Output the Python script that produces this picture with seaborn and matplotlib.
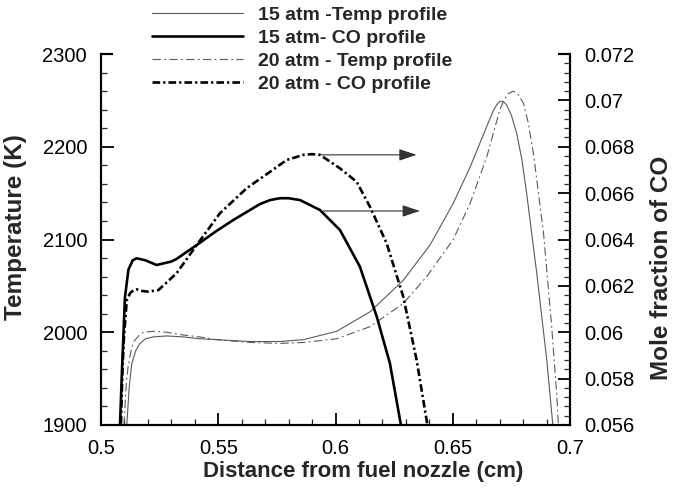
import matplotlib
matplotlib.use("Agg")
import matplotlib.pyplot as plt
import seaborn as sns
from matplotlib.patches import Rectangle
from matplotlib.ticker import FixedLocator, MultipleLocator, FixedFormatter

# ---------------- data ----------------
x_T15 = [0.5085, 0.5100, 0.5110, 0.5120, 0.5131, 0.5148, 0.5166, 0.5190, 0.5223, 0.5280, 0.5351,
         0.5420, 0.5493, 0.5635, 0.5763, 0.5863, 0.6005, 0.6147, 0.6289, 0.6403, 0.6502,
         0.6574, 0.6645, 0.6675, 0.6690, 0.6701, 0.6715, 0.6730, 0.6750, 0.6773, 0.6795,
         0.6815, 0.6858, 0.6901, 0.6926, 0.6940]
T15 = [1800, 1860, 1900, 1940, 1966, 1980, 1988, 1993, 1995, 1996, 1995,
       1993, 1992, 1990, 1990, 1992, 2001, 2022, 2056, 2094, 2139,
       2178, 2222, 2240, 2246, 2249, 2249, 2245, 2234, 2214, 2186,
       2150, 2064, 1970, 1902, 1860]

x_T20 = [0.5085, 0.5098, 0.5108, 0.5115, 0.5128, 0.5140, 0.5160, 0.5181, 0.5223, 0.5280,
         0.5351, 0.5420, 0.5493, 0.5635, 0.5763, 0.5863, 0.6005, 0.6147, 0.6289, 0.6389,
         0.6502, 0.6574, 0.6645, 0.6701, 0.6720, 0.6735, 0.6758, 0.6780, 0.6801, 0.6820,
         0.6844, 0.6887, 0.6922, 0.6943, 0.6955]
T20 = [1820, 1900, 1945, 1962, 1980, 1990, 1996, 2000, 2001, 2000,
       1997, 1995, 1992, 1989, 1988, 1989, 1993, 2006, 2031, 2060,
       2100, 2139, 2189, 2240, 2251, 2257, 2260, 2256, 2247, 2228,
       2193, 2107, 2006, 1934, 1880]

x_CO15 = [0.5075, 0.5081, 0.5090, 0.5095, 0.5102, 0.5117, 0.5135, 0.5152, 0.5190, 0.5237,
          0.5300, 0.5322, 0.5408, 0.5490, 0.5564, 0.5678, 0.5721, 0.5763, 0.5800, 0.5849,
          0.5934, 0.6019, 0.6104, 0.6176, 0.6232, 0.6279, 0.6290]
CO15 = [0.0540, 0.0560, 0.0585, 0.0597, 0.0615, 0.0627, 0.0631, 0.06319, 0.0631, 0.0629,
        0.06305, 0.06316, 0.06376, 0.06435, 0.06484, 0.06553, 0.06570, 0.06578, 0.06578, 0.06570,
        0.06527, 0.06441, 0.06283, 0.06067, 0.05866, 0.0560, 0.0555]

x_CO20 = [0.5078, 0.5085, 0.5092, 0.5098, 0.5110, 0.5125, 0.5140, 0.5152, 0.5175, 0.5202,
          0.5245, 0.5322, 0.5408, 0.5507, 0.5621, 0.5721, 0.5792, 0.5863, 0.5900, 0.5934,
          0.6019, 0.6090, 0.6147, 0.6218, 0.6289, 0.6346, 0.6392, 0.6400]
CO20 = [0.0540, 0.0560, 0.0585, 0.0598, 0.06139, 0.0617, 0.06182, 0.06185, 0.06178, 0.06175,
        0.06182, 0.06254, 0.06376, 0.06513, 0.06621, 0.06692, 0.06743, 0.06765, 0.06768, 0.06765,
        0.06707, 0.06649, 0.06541, 0.06384, 0.06153, 0.0588, 0.0560, 0.0555]

series_labels = ["15 atm -Temp profile", "15 atm- CO profile",
                 "20 atm - Temp profile", "20 atm - CO profile"]

x_ticks = [0.5, 0.55, 0.6, 0.65, 0.7]
x_tick_labels = ["0.5", "0.55", "0.6", "0.65", "0.7"]
T_ticks = [1900, 2000, 2100, 2200, 2300]
T_tick_labels = ["1900", "2000", "2100", "2200", "2300"]
CO_ticks = [0.056, 0.058, 0.060, 0.062, 0.064, 0.066, 0.068, 0.070, 0.072]
CO_tick_labels = ["0.056", "0.058", "0.06", "0.062", "0.064", "0.066", "0.068", "0.07", "0.072"]

# arrows pointing to the right-hand axis (start x, end x, CO level)
arrow_upper = (0.5934, 0.6346, 0.06765)
arrow_lower = (0.5948, 0.6360, 0.06523)

# ---------------- style ----------------
sns.set_theme(style="white")
plt.rcParams["font.family"] = ["Liberation Sans", "DejaVu Sans"]
plt.rcParams["lines.scale_dashes"] = False

fig = plt.figure(figsize=(6.73, 4.91), dpi=100)
ax = fig.add_axes([101 / 673, 1 - 425 / 491, 469 / 673, 371 / 491])
ax2 = ax.twinx()

gray = "#5a5a5a"
thin_dd = (0, (6, 2.4, 1.3, 2.4))
thick_dd = (0, (5.5, 2.2, 1.6, 2.2))

sns.lineplot(x=x_T15, y=T15, ax=ax, color=gray, linewidth=0.8, sort=False,
             label=series_labels[0], legend=False)
sns.lineplot(x=x_T20, y=T20, ax=ax, color=gray, linewidth=0.8, linestyle=thin_dd,
             sort=False, label=series_labels[2], legend=False)
sns.lineplot(x=x_CO15, y=CO15, ax=ax2, color="black", linewidth=1.9, sort=False,
             label=series_labels[1], legend=False)
sns.lineplot(x=x_CO20, y=CO20, ax=ax2, color="black", linewidth=1.9, linestyle=thick_dd,
             sort=False, label=series_labels[3], legend=False)

ax.set_xlim(0.5, 0.7)
ax.set_ylim(1900, 2300)
ax2.set_ylim(0.056, 0.072)

for (x0, x1, yv) in (arrow_upper, arrow_lower):
    ax2.annotate("", xy=(x1, yv), xytext=(x0, yv),
                 arrowprops=dict(arrowstyle="-|>,head_length=0.9,head_width=0.3",
                                 color="#333333", lw=0.8, shrinkA=0, shrinkB=0))

# ticks
ax.xaxis.set_major_locator(FixedLocator(x_ticks))
ax.xaxis.set_major_formatter(FixedFormatter(x_tick_labels))
ax.xaxis.set_minor_locator(MultipleLocator(0.01))
ax.yaxis.set_major_locator(FixedLocator(T_ticks))
ax.yaxis.set_major_formatter(FixedFormatter(T_tick_labels))
ax.yaxis.set_minor_locator(MultipleLocator(20))
ax2.yaxis.set_major_locator(FixedLocator(CO_ticks))
ax2.yaxis.set_major_formatter(FixedFormatter(CO_tick_labels))
ax2.yaxis.set_minor_locator(MultipleLocator(0.0004))

tick_fs = 14.5
ax.tick_params(axis="both", which="major", direction="in", length=9, width=1.3,
               labelsize=tick_fs, colors="black", pad=10)
ax.tick_params(axis="both", which="minor", direction="in", length=4.5, width=0.9)
ax.tick_params(top=False, right=False, which="both")
ax.tick_params(axis="x", which="both", bottom=True)
ax.tick_params(axis="y", which="both", left=True)
ax2.tick_params(axis="y", which="major", direction="in", length=9, width=1.3,
                labelsize=tick_fs, colors="black", pad=10, right=True, left=False)
ax2.tick_params(axis="y", which="minor", direction="in", length=4.5, width=0.9,
                right=True, left=False)

for a in (ax, ax2):
    for s in a.spines.values():
        s.set_linewidth(1.5)
        s.set_color("black")

# labels
fig.text(363 / 673, 1 - 472 / 491, "Distance from fuel nozzle (cm)", ha="center", va="center",
         fontsize=16, fontweight="bold")
fig.text(16 / 673, 1 - 227 / 491, "Temperature (K)", ha="center", va="center",
         rotation=90, fontsize=17.5, fontweight="bold")
fig.text(662 / 673, 1 - 268 / 491, "Mole fraction of CO", ha="center", va="center",
         rotation=90, fontsize=17.5, fontweight="bold")

# white box behind the legend (hides the top frame there)
fig.add_artist(Rectangle((113 / 673, 1 - 89 / 491), (558 - 113) / 673, 89 / 491,
                         transform=fig.transFigure, facecolor="white",
                         edgecolor="none", zorder=4))

# legend
h1, l1 = ax.get_legend_handles_labels()
h2, l2 = ax2.get_legend_handles_labels()
hmap = dict(zip(l1 + l2, h1 + h2))
handles = [hmap[l] for l in series_labels]
leg = fig.legend(handles, series_labels, loc="upper left",
                 bbox_to_anchor=(152 / 673, 1 - 6 / 491), frameon=False,
                 prop={"weight": "bold", "size": 14}, handlelength=4.7,
                 handletextpad=0.75, labelspacing=0.28, borderpad=0, borderaxespad=0)
leg.set_zorder(5)

fig.savefig("out.png", dpi=100)
